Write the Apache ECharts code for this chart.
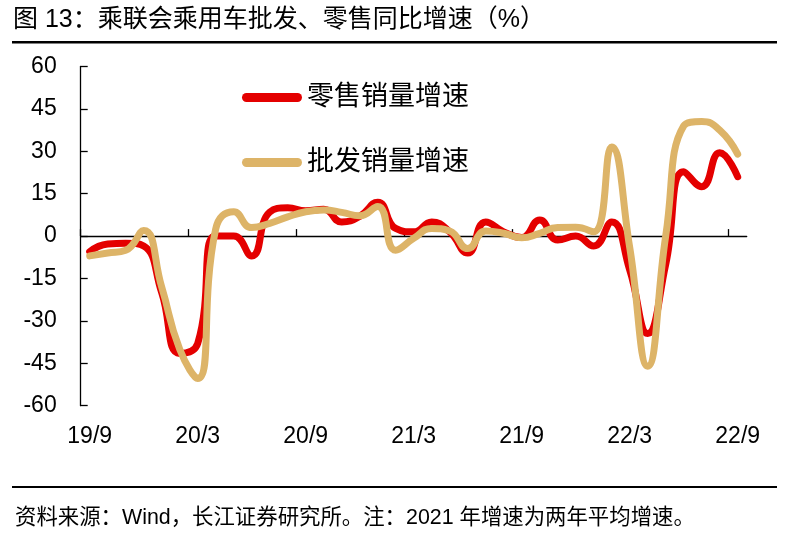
<!DOCTYPE html>
<html>
<head>
<meta charset="utf-8">
<script src="https://cdn.jsdelivr.net/npm/echarts@6/dist/echarts.min.js"></script>
<style>
html,body{margin:0;padding:0;background:#fff;}
#c{width:795px;height:544px;}
</style>
</head>
<body>
<div id="c"></div>
<script>
var categories = ['19/9','19/10','19/11','19/12','20/1','20/2','20/3','20/4','20/5','20/6','20/7','20/8','20/9','20/10','20/11','20/12','21/1','21/2','21/3','21/4','21/5','21/6','21/7','21/8','21/9','21/10','21/11','21/12','22/1','22/2','22/3','22/4','22/5','22/6','22/7','22/8','22/9'];
var retail = [-5.5, -2.8, -2.5, -3.5, -20, -41.5, -38, 0, 0, -7, 8.5, 10, 9, 9.5, 5, 7, 12, 2.7, 1.5, 5, 1.5, -6, 5, 1.5, -0.5, 5.7, -1.4, 0, -3.5, 5, -12, -34.5, -10, 22.8, 17.5, 29.5, 21];
var wholesale = [-7, -6, -5, 2, -18, -40, -50.4, 2.5, 8.6, 3, 4.5, 6.8, 8.6, 9.2, 8.4, 7.2, 10.5, -5, -0.8, 2.7, 1.8, -4.4, 1.8, 1.0, -0.6, 1.0, 3.0, 3.1, 1.5, 31.5, -4, -46, 0, 39, 40.5, 37.5, 29];
var yTicks = {min: -60, max: 60, interval: 15};
var xTickBoundaries = [0, 6, 12, 18, 24, 30, 36];
var seriesNames = ['零售销量增速', '批发销量增速'];
var titleText = '图 13：乘联会乘用车批发、零售同比增速（%）';
var footerText = '资料来源：Wind，长江证券研究所。注：2021 年增速为两年平均增速。';

var FF = "'Liberation Sans', 'Noto Sans CJK SC', sans-serif";
var chart = echarts.init(document.getElementById('c'), null, {renderer: 'canvas'});
var capsule = 'path://M4.5,0 H55.5 A4.5,4.5 0 0 1 55.5,9 H4.5 A4.5,4.5 0 0 1 4.5,0 Z';
chart.setOption({
  animation: false,
  backgroundColor: '#fff',
  title: [
    {text: titleText, left: 13, top: 8, padding: 0,
     textStyle: {fontSize: 25, fontWeight: 'normal', color: '#000', fontFamily: FF}},
    {text: footerText, left: 15, top: 507, padding: 0,
     textStyle: {fontSize: 21.4, fontWeight: 'normal', color: '#000', fontFamily: FF}}
  ],
  graphic: [
    {type: 'rect', shape: {x: 12, y: 41, width: 765, height: 2.5}, style: {fill: '#000'}},
    {type: 'rect', shape: {x: 12, y: 486, width: 765, height: 2}, style: {fill: '#000'}}
  ],
  legend: {
    orient: 'vertical', left: 242, top: 84, padding: 0, itemGap: 38,
    itemWidth: 60, itemHeight: 9,
    data: [{name: seriesNames[0], icon: capsule}, {name: seriesNames[1], icon: capsule}],
    textStyle: {fontSize: 27, color: '#000', fontFamily: FF}
  },
  grid: {left: 80.7, right: 48.3, top: 66.5, bottom: 138.3, outerBoundsMode: 'none', containLabel: false},
  xAxis: [
    {
      type: 'category', data: categories, boundaryGap: true, position: 'bottom',
      axisLine: {show: false, onZero: false},
      axisTick: {show: false},
      axisLabel: {interval: 5, margin: 19, fontSize: 23, color: '#000', fontFamily: FF},
      splitLine: {show: false}
    },
    {
      type: 'value', min: 0, max: categories.length, position: 'top',
      axisLine: {show: true, onZero: true, lineStyle: {color: '#000', width: 1.3}},
      axisTick: {show: true, inside: false, length: 7, customValues: xTickBoundaries,
        lineStyle: {color: '#000', width: 1.3}},
      axisLabel: {show: false},
      splitLine: {show: false}
    }
  ],
  yAxis: {
    type: 'value', min: yTicks.min, max: yTicks.max, interval: yTicks.interval,
    axisLine: {show: true, lineStyle: {color: '#000', width: 1.3}},
    axisTick: {show: true, inside: true, length: 7, lineStyle: {color: '#000', width: 1.3}},
    axisLabel: {margin: 24, fontSize: 23, color: '#000', fontFamily: FF},
    splitLine: {show: false}
  },
  series: [
    {name: seriesNames[0], type: 'line', data: retail, smooth: 0.5, showSymbol: false, xAxisIndex: 0,
     color: '#E40000', lineStyle: {width: 7, color: '#E40000', cap: 'round', join: 'round'}},
    {name: seriesNames[1], type: 'line', data: wholesale, smooth: 0.5, showSymbol: false, xAxisIndex: 0,
     color: '#DDB468', lineStyle: {width: 7, color: '#DDB468', cap: 'round', join: 'round'}}
  ]
});
</script>
</body>
</html>
